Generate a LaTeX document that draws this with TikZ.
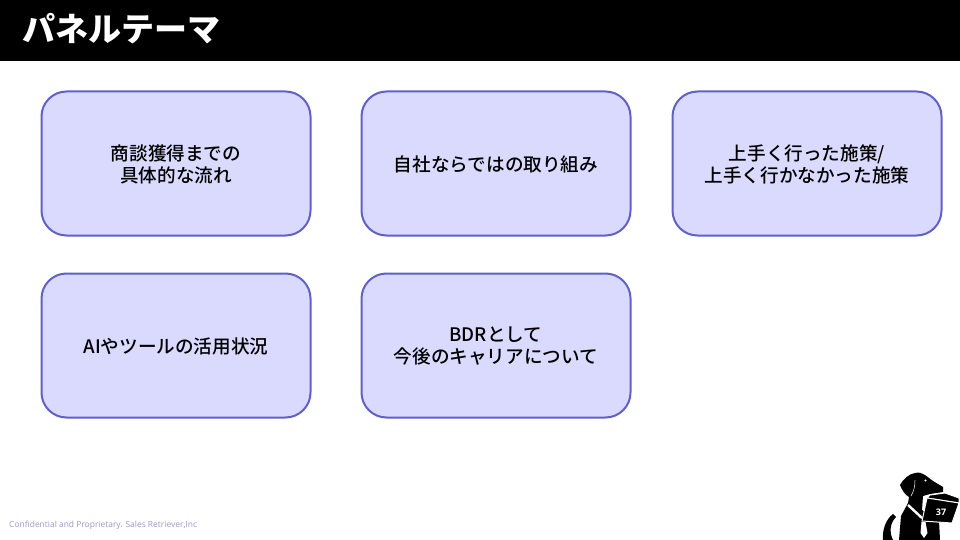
\documentclass[tikz,border=0pt]{standalone}
\usepackage{fontspec}
\setmainfont{Noto Sans CJK JP}
\newfontfamily\panelfont{Noto Sans CJK JP Medium}
\newfontfamily\footfont{Open Sans}
\definecolor{panelfill}{HTML}{DADAFE}
\definecolor{panelline}{HTML}{5F5FCE}
\definecolor{footgray}{HTML}{9C98C8}
\tikzset{
	panelbox/.style={draw=panelline, fill=panelfill, line width=2pt, rounded corners=25pt, minimum width=269pt, minimum height=144pt, inner sep=0pt},
	paneltext/.style={inner sep=0pt, align=center, text=black, yshift=-0.6pt, font=\panelfont\fontsize{18.6pt}{22pt}\selectfont},
}
\newcommand{\panel}[4] % name, left x, top y, text
{
	\node[panelbox] (#1) at (#2+135,#3+72.5) {};
	\node[paneltext] (#1text) at (#1) {#4};
}
\begin{document}
\begin{tikzpicture}[x=1pt, y=-1pt]
	% page: 960 x 540
	\useasboundingbox (0,0) rectangle (960,540);
	\fill[black] (0,0) rectangle (960,61);
	\node[anchor=west, inner sep=0pt, text=white, font=\bfseries\fontsize{33pt}{36pt}\selectfont] (title) at (22,29) {パネルテーマ};

	\panel{flow}{41}{91}{商談獲得までの\\具体的な流れ};
	\panel{own}{361}{91}{自社ならではの取り組み};
	\panel{result}{672}{91}{上手く行った施策/\\上手く行かなかった施策};
	\panel{tools}{41}{273}{AIやツールの活用状況};
	\panel{career}{361}{273}{BDRとして\\今後のキャリアについて};

	\node[anchor=west, inner sep=0pt, text=footgray, font=\footfont\fontsize{8.45pt}{9pt}\selectfont] (foot) at (9,525) {Confidential and Proprietary. Sales Retriever,Inc};

	% dog
	\fill[black] (883,540) .. controls (882,530) and (886,519) .. (893,514) -- (896,517) .. controls (890,523) and (889,532) .. (893,540) -- cycle;
	\fill[black] (899,540) -- (901,516) -- (908,503) -- (909,497) .. controls (905,495) and (902,490) .. (900,485) .. controls (903,479) and (909,474) .. (915,473) .. controls (919,472) and (922,473) .. (925,475) -- (933,481) -- (943,487) -- (943,492) -- (930,494) -- (923,496) -- (922,510) -- (939,521) -- (940,540) -- cycle;
	\draw[white, line width=0.5pt] (915,480) .. controls (915,486) and (914,491) .. (911,496);
	\draw[white, line width=2.4pt] (908,505) -- (922,518);
	\fill[white] (921.5,522) -- (925.5,522) -- (927.5,533) -- (924,538) -- (920.5,533) -- cycle;
	\fill[white] (925.5,480.5) circle (1.2pt);
	% book
	\fill[black, draw=white, line width=1pt] (930,495) -- (945,493) -- (959,498) -- (959,503) -- (927,498) -- cycle;
	\fill[black, draw=white, line width=1pt] (927,498) -- (959,503) -- (952,523) -- (922,521) -- cycle;
	\node[inner sep=0pt, text=white, font=\footfont\bfseries\fontsize{9pt}{10pt}\selectfont] (page) at (941,512) {37};
\end{tikzpicture}
\end{document}
